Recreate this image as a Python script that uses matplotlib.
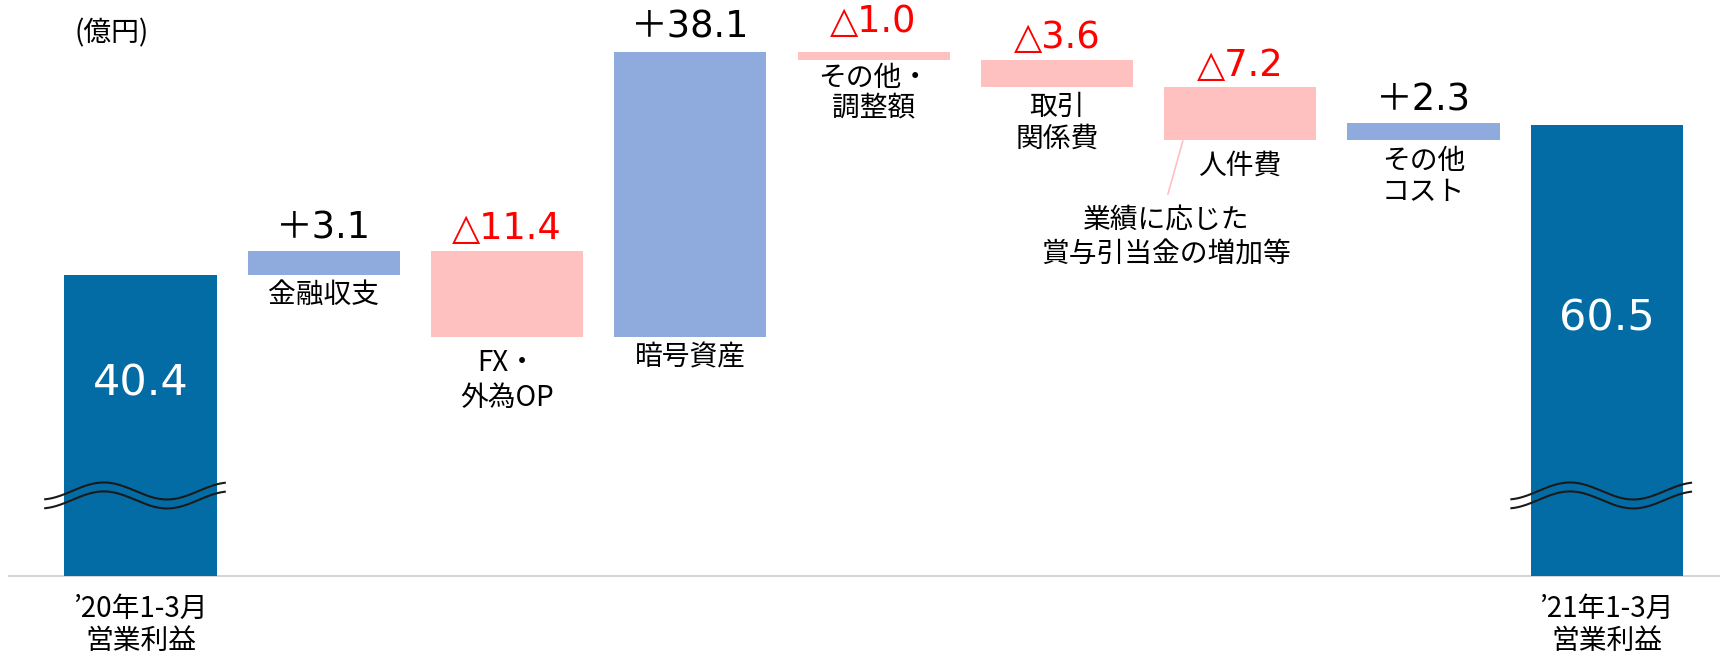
import numpy as np
import matplotlib
matplotlib.use('Agg')
import matplotlib.pyplot as plt

# ---- data ----
start_value = 40.4
end_value = 60.5
delta_values = [3.1, -11.4, 38.1, -1.0, -3.6, -7.2, 2.3]
value_labels = ['＋3.1', '△11.4', '＋38.1', '△1.0', '△3.6', '△7.2', '＋2.3']
delta_categories = ['金融収支', 'FX・\n外為OP', '暗号資産', 'その他・\n調整額',
                    '取引\n関係費', '人件費', 'その他\nコスト']
total_categories = ['’20年1-3月\n営業利益', '’21年1-3月\n営業利益']
total_labels = ['40.4', '60.5']
note_text = '業績に応じた\n賞与引当金の増加等'
unit_text = '(億円)'

# ---- style ----
DARK = '#046CA5'
POS = '#8FAADC'
NEG = '#FFC0C0'
RED = '#FF0000'
JP = ['Noto Sans CJK JP', 'DejaVu Sans']
NUM = ['DejaVu Sans', 'Noto Sans CJK JP']

fig = plt.figure(figsize=(17.21, 6.56), dpi=100)
ax = fig.add_axes([0, 0, 1, 1])
ax.set_xlim(-0.7665, 8.6235)
ax.set_ylim(-10.72, 77.21)
ax.axis('off')

width = 0.83
n = len(delta_values)
x_totals = [0, n + 1]
x_deltas = np.arange(1, n + 1)

# cumulative waterfall
levels = np.concatenate([[start_value], start_value + np.cumsum(delta_values)])
bottoms = np.minimum(levels[:-1], levels[1:])
heights = np.abs(np.array(delta_values))
colors = [POS if v > 0 else NEG for v in delta_values]

# baseline
ax.plot([-0.723, 8.62], [0, 0], color='#D0D0D0', lw=1.3, zorder=1, solid_capstyle='butt')

ax.bar(x_totals, [start_value, end_value], width=width, color=DARK, zorder=2)
ax.bar(x_deltas, heights, bottom=bottoms, width=width, color=colors, zorder=2)

# break marks on total bars
t = np.linspace(-0.52, 0.46, 300)
wave = 1.14 * np.cos(2 * np.pi * (t + 0.2) / 0.69)
for xc in x_totals:
    for off in (11.4, 10.2):
        ax.plot(xc + t, off + wave, color='#1a1a1a', lw=1.5, zorder=3)

# labels inside totals
label_frac = [0.64, 0.57]
for xc, val, lab, fr in zip(x_totals, [start_value, end_value], total_labels, label_frac):
    ax.text(xc, val * fr, lab, color='white', fontsize=31, family=NUM,
            ha='center', va='center', zorder=4)

# total category labels below axis
for xc, lab in zip(x_totals, total_categories):
    ax.annotate(lab, (xc, 0), xytext=(0, -49), textcoords='offset pixels',
                ha='center', va='center', fontsize=20, family=JP, linespacing=1.12)

# value labels above delta bars
val_off = [23, 23, 25, 31, 22, 21, 23]
for i, (xc, lab, v) in enumerate(zip(x_deltas, value_labels, delta_values)):
    top = max(levels[i], levels[i + 1])
    ax.annotate(lab, (xc, top), xytext=(0, val_off[i]), textcoords='offset pixels',
                ha='center', va='center', fontsize=26.5, family=NUM,
                color='black' if v > 0 else RED)

# category labels below delta bars
cat_off = [20, 44, 21, 33, 36, 25, 36]
cat_ls = [1.1, 1.2, 1.1, 1.0, 1.07, 1.1, 1.07]
for i, (xc, lab) in enumerate(zip(x_deltas, delta_categories)):
    bot = min(levels[i], levels[i + 1])
    ax.annotate(lab, (xc, bot), xytext=(0, -cat_off[i]), textcoords='offset pixels',
                ha='center', va='center', fontsize=20, family=JP, linespacing=cat_ls[i])

# note for personnel cost with leader line
k = 5
bot = min(levels[k], levels[k + 1])
xc = x_deltas[k]
ax.annotate(note_text, (xc, bot), xytext=(-74, -97), textcoords='offset pixels',
            ha='center', va='center', fontsize=20, family=JP, linespacing=1.2)
ax.plot([xc - 0.313, xc - 0.394], [bot - 0.1, bot - 7.2], color=NEG, lw=1.2, zorder=2)

# unit
ax.text(-0.16, 72.8, unit_text, ha='center', va='center', fontsize=20, family=JP)

fig.savefig('out.png', dpi=100)
